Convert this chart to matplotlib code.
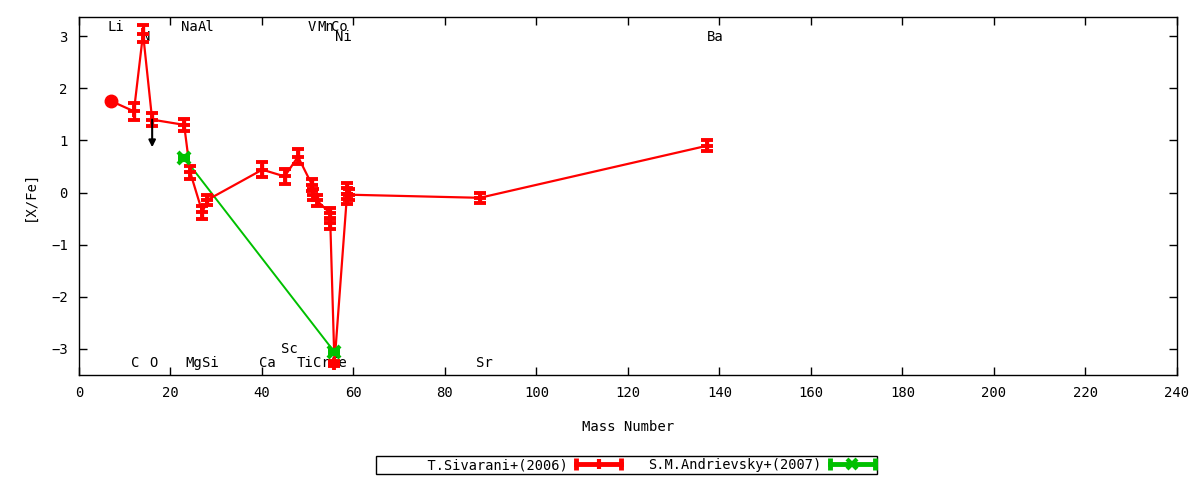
import matplotlib
matplotlib.use('Agg')
import matplotlib.pyplot as plt
from matplotlib.lines import Line2D
from matplotlib.legend_handler import HandlerBase

plt.rcParams['font.family'] = ['DejaVu Sans Mono', 'DejaVu Sans']

# ---------------- data ----------------
siv_label = "T.Sivarani+(2006)"
siv_mass = [6.94, 12.01, 14.01, 16.00, 22.99, 24.31, 26.98, 28.09, 40.08, 44.96,
            47.87, 50.94, 51.2, 52.00, 54.94, 54.94, 55.85, 58.69, 58.69, 58.93,
            87.62, 137.33]
siv_val = [1.76, 1.56, 3.05, 1.40, 1.30, 0.39, -0.38, -0.14, 0.44, 0.31,
           0.69, 0.15, -0.04, -0.15, -0.40, -0.59, -3.28, 0.08, -0.12, -0.04,
           -0.10, 0.90]
siv_err = [0.0, 0.16, 0.16, 0.13, 0.12, 0.12, 0.12, 0.10, 0.15, 0.15,
           0.15, 0.12, 0.10, 0.10, 0.10, 0.10, 0.05, 0.10, 0.10, 0.10,
           0.10, 0.10]

and_label = "S.M.Andrievsky+(2007)"
and_mass = [22.99, 55.85]
and_val = [0.67, -3.06]
and_err = [0.04, 0.04]

# upper limit (O)
lim_mass = 16.00
lim_from = 1.40
lim_to = 0.87

# element labels: name, x, y
elem_names = ["Li", "N", "C", "O", "Na", "Al", "Mg", "Si", "Ca", "Sc", "Ti",
              "V", "Cr", "Mn", "Fe", "Co", "Ni", "Sr", "Ba"]
elem_x = [8.1, 14.6, 12.3, 16.2, 24.2, 27.8, 25.1, 28.8, 41.1, 45.9, 49.3,
          50.9, 52.9, 53.9, 56.8, 57.0, 57.7, 88.7, 139.1]
elem_y = [3.17, 2.98, -3.27, -3.27, 3.17, 3.17, -3.27, -3.27, -3.27, -3.0, -3.27,
          3.17, -3.27, 3.17, -3.27, 3.17, 2.98, -3.27, 2.98]

xticks = [0, 20, 40, 60, 80, 100, 120, 140, 160, 180, 200, 220, 240]
yticks = [-3, -2, -1, 0, 1, 2, 3]

RED = '#ff0000'
GREEN = '#00c000'
FS = 9.5

fig = plt.figure(figsize=(12, 4.8), dpi=100)
ax = fig.add_axes([0.0658, 0.2188, 0.9150, 0.7458])

# element labels (behind data)
for n, x, y in zip(elem_names, elem_x, elem_y):
    ax.text(x, y, n, ha='center', va='center', fontsize=FS + 0.5, zorder=1)

# Sivarani
ax.plot(siv_mass, siv_val, color=RED, lw=1.6, zorder=3)
ax.errorbar(siv_mass[1:], siv_val[1:], yerr=siv_err[1:], fmt='+', color=RED,
            ms=9, mew=2.8, elinewidth=2.4, capsize=4, capthick=2.8, zorder=4)
ax.plot(siv_mass[0], siv_val[0], 'o', color=RED, ms=9, zorder=4)

# Andrievsky
ax.plot(and_mass, and_val, color=GREEN, lw=1.4, zorder=2)
ax.errorbar(and_mass, and_val, yerr=and_err, fmt='x', color=GREEN,
            ms=8, mew=3, elinewidth=2.4, capsize=4, capthick=2.8, zorder=4)

# upper-limit arrow
ax.annotate('', xy=(lim_mass, lim_to), xytext=(lim_mass, lim_from),
            arrowprops=dict(arrowstyle='-|>', color='black', lw=1.5,
                            mutation_scale=10, shrinkA=0, shrinkB=0), zorder=5)

ax.set_xlim(0, 240)
ax.set_ylim(-3.5, 3.37)
ax.set_xticks(xticks)
ax.set_yticks(yticks)
ax.tick_params(direction='in', top=True, right=True, length=6, width=1,
               labelsize=FS + 0.5, pad=8)
for s in ax.spines.values():
    s.set_linewidth(1)
ax.set_xlabel('Mass Number', fontsize=FS + 0.5, labelpad=14)
ax.set_ylabel('[X/Fe]', fontsize=FS + 0.5, labelpad=10)


class ErrHandler(HandlerBase):
    def __init__(self, color, mid_marker):
        super().__init__()
        self.color = color
        self.mid_marker = mid_marker

    def create_artists(self, legend, orig_handle, xdescent, ydescent, width,
                       height, fontsize, trans):
        y = height / 2 - ydescent
        x0, x1 = -xdescent, width - xdescent
        xm = (x0 + x1) / 2
        line = Line2D([x0, x1], [y, y], color=self.color, lw=3.5, transform=trans)
        caps = Line2D([x0, x1], [y, y], ls='none', marker='|', ms=9, mew=3.5,
                      color=self.color, transform=trans)
        mid = Line2D([xm], [y], ls='none', marker=self.mid_marker, ms=7, mew=3,
                     color=self.color, transform=trans)
        return [line, caps, mid]


h1 = Line2D([], [])
h2 = Line2D([], [])
leg = fig.legend([h1, h2], ['      ' + siv_label, and_label],
                 handler_map={h1: ErrHandler(RED, '|'), h2: ErrHandler(GREEN, 'x')},
                 loc='center', bbox_to_anchor=(0.522, 0.031), ncol=2,
                 markerfirst=False, fontsize=FS + 0.3, frameon=True, fancybox=False,
                 edgecolor='black', framealpha=1, borderpad=0.15,
                 handlelength=3.3, handletextpad=0.6, columnspacing=2.0,
                 borderaxespad=0)
leg.get_frame().set_linewidth(1)

fig.savefig('out.png', dpi=100)
